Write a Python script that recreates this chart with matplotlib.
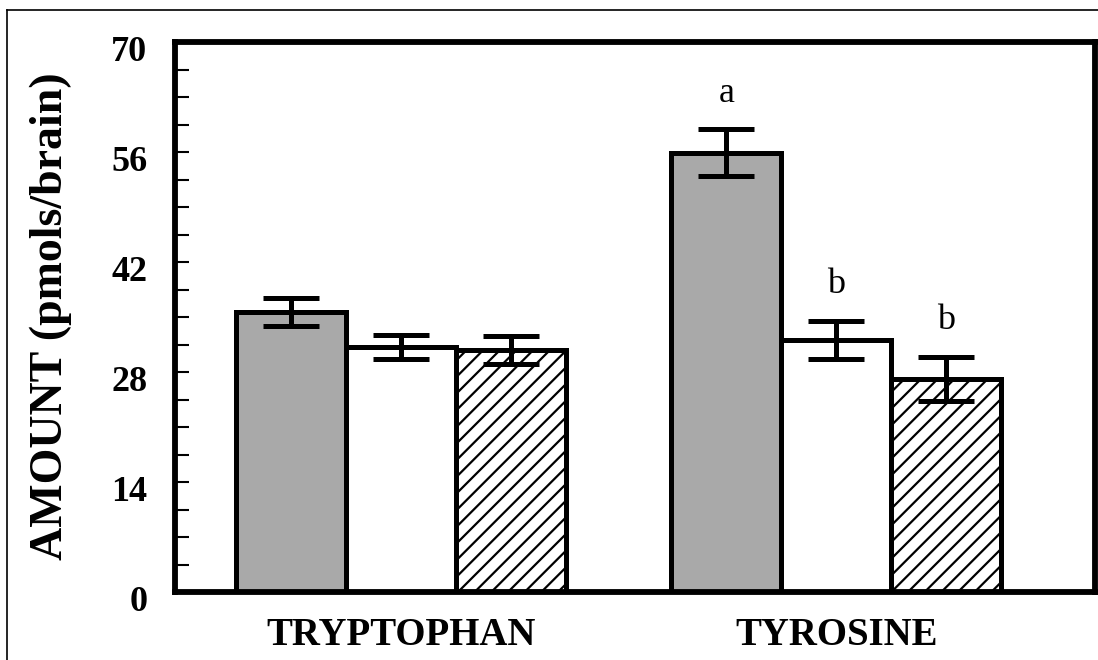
import numpy as np
import matplotlib
matplotlib.use("Agg")
import matplotlib.pyplot as plt
import matplotlib.transforms as mtransforms
from matplotlib.lines import Line2D

# Valores (pmols/brain)
aminoacidos = ['TRYPTOPHAN', 'TYROSINE']
grupo_gris = [35.6, 55.9]
grupo_blanco = [31.2, 32.1]
grupo_rayado = [30.8, 27.1]
err_gris = [1.8, 3.0]
err_blanco = [1.5, 2.4]
err_rayado = [1.75, 2.8]
letras_tyr = ['a', 'b', 'b']

plt.rcParams['font.family'] = ['Liberation Serif', 'DejaVu Serif']
plt.rcParams['hatch.linewidth'] = 1.6

fig = plt.figure(figsize=(10.98, 6.6), dpi=100)
ax = fig.add_axes([175 / 1098, 1 - 592 / 660, (1095 - 175) / 1098, (592 - 42) / 660])

centros = np.array([0.0, 3.96])
ancho = 1.0
series = [(grupo_gris, err_gris, '#a9a9a9', ''),
          (grupo_blanco, err_blanco, 'white', ''),
          (grupo_rayado, err_rayado, 'white', '//')]

for k, (vals, errs, color, hatch) in enumerate(series):
    xs = centros + (k - 1) * ancho
    ax.bar(xs, vals, width=ancho, color=color, edgecolor='black',
           linewidth=3.6, hatch=hatch, zorder=2)
    ax.errorbar(xs, vals, yerr=errs, fmt='none', ecolor='black',
                elinewidth=3.6, capsize=20, capthick=3.6, zorder=3)

# letras de significancia sobre TYROSINE
alturas = [v + e for v, e in zip([grupo_gris[1], grupo_blanco[1], grupo_rayado[1]],
                                 [err_gris[1], err_blanco[1], err_rayado[1]])]
for k, (letra, h) in enumerate(zip(letras_tyr, alturas)):
    ax.text(centros[1] + (k - 1) * ancho, h + 4.6, letra, ha='center', va='center',
            fontsize=26)

ax.set_xlim(-2.05, 6.31)
ax.set_ylim(0, 70)
ax.set_yticks(np.arange(0, 71, 14))
ax.set_yticks(np.arange(0, 70, 3.5), minor=True)
ax.tick_params(axis='y', which='both', direction='in', length=10, width=1.5,
               labelsize=26, pad=20)
ax.tick_params(axis='x', length=0, labelsize=28, pad=18)
bajar = mtransforms.ScaledTranslation(0, -5 / 72, fig.dpi_scale_trans)
for lab in ax.get_yticklabels():
    lab.set_fontweight('bold')
    lab.set_transform(lab.get_transform() + bajar)
ax.set_xticks(centros)
ax.set_xticklabels(aminoacidos, fontweight='bold')
for s in ax.spines.values():
    s.set_linewidth(4.2)

fig.text(51 / 1098, 1 - 316 / 660, 'AMOUNT (pmols/brain)', rotation=90,
         ha='center', va='center', fontsize=33, fontweight='bold')

# marco exterior
fig.add_artist(Line2D([7 / 1098, 1], [1 - 10 / 660, 1 - 10 / 660], color='black', lw=1.2))
fig.add_artist(Line2D([7 / 1098, 7 / 1098], [0, 1 - 10 / 660], color='black', lw=1.2))

fig.savefig('out.png', dpi=100)
